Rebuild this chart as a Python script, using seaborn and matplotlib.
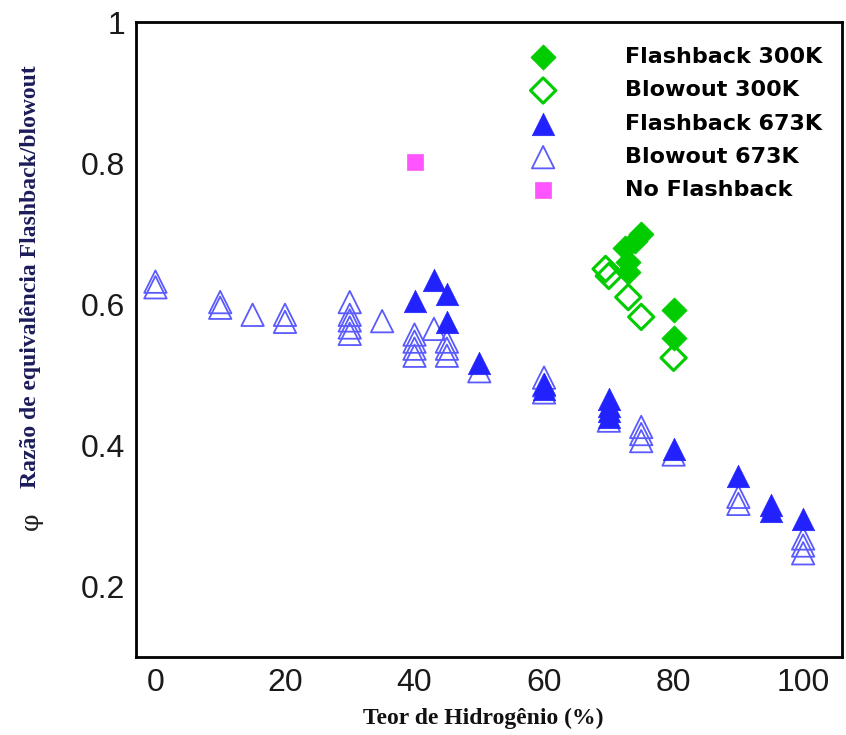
import numpy as np
import pandas as pd
import seaborn as sns
import matplotlib
matplotlib.use("Agg")
import matplotlib.pyplot as plt
from matplotlib.ticker import MultipleLocator

# Flashback / blowout equivalence ratio versus hydrogen content
flash300_x = [75, 74, 72.5, 73, 73, 80, 80]
flash300_y = [0.70, 0.69, 0.68, 0.66, 0.645, 0.592, 0.552]

blow300_x = [69.5, 70, 73, 75, 80]
blow300_y = [0.65, 0.64, 0.61, 0.582, 0.524]

flash673_x = [40, 43, 45, 45, 50, 60, 60, 70, 70, 70, 70, 80, 90, 95, 95, 100]
flash673_y = [0.605, 0.634, 0.615, 0.575, 0.516, 0.487, 0.480, 0.465, 0.456,
              0.448, 0.440, 0.395, 0.356, 0.316, 0.307, 0.296]

blow673_x = [0, 0, 10, 10, 15, 20, 20, 30, 30, 30, 30, 30, 35, 40, 40, 40, 40,
             43, 45, 45, 45, 50, 60, 60, 60, 70, 75, 75, 75, 80, 90, 90,
             100, 100, 100]
blow673_y = [0.632, 0.624, 0.603, 0.595, 0.585, 0.585, 0.575, 0.603, 0.585,
             0.577, 0.567, 0.558, 0.576, 0.557, 0.547, 0.537, 0.527, 0.565,
             0.547, 0.537, 0.527, 0.505, 0.496, 0.485, 0.475, 0.435, 0.426,
             0.416, 0.406, 0.387, 0.327, 0.317, 0.268, 0.258, 0.247]

noflash_x = [40]
noflash_y = [0.802]

labels = ["Flashback 300K", "Blowout 300K", "Flashback 673K",
          "Blowout 673K", "No Flashback"]
xticks = [0, 20, 40, 60, 80, 100]
yticks = [0.2, 0.4, 0.6, 0.8, 1.0]
ytick_labels = ["0.2", "0.4", "0.6", "0.8", "1"]

green = "#00cc00"
blue = "#2222ff"
light_blue = "#5a5aff"
pink = "#ff55ff"

sns.set_style("white")
plt.rcParams["font.family"] = ["Liberation Sans", "DejaVu Sans"]

W, H = 846, 735
fig = plt.figure(figsize=(W / 100, H / 100), dpi=100)
ax = fig.add_axes([136 / W, 78 / H, (842 - 136) / W, (657 - 22) / H])

# open markers first so the filled ones sit on top
sns.scatterplot(x=blow673_x, y=blow673_y, marker="^", s=260,
                facecolor="none", edgecolor=light_blue, linewidth=1.3,
                ax=ax, label=labels[3], zorder=3)
sns.scatterplot(x=flash673_x, y=flash673_y, marker="^", s=260,
                color=blue, edgecolor=blue, linewidth=0.5,
                ax=ax, label=labels[2], zorder=4)
sns.scatterplot(x=blow300_x, y=blow300_y, marker="D", s=165,
                facecolor="none", edgecolor=green, linewidth=2.2,
                ax=ax, label=labels[1], zorder=5)
sns.scatterplot(x=flash300_x, y=flash300_y, marker="D", s=165,
                color=green, edgecolor=green, linewidth=0.5,
                ax=ax, label=labels[0], zorder=6)
sns.scatterplot(x=noflash_x, y=noflash_y, marker="s", s=125,
                color=pink, edgecolor=pink, linewidth=0.5,
                ax=ax, label=labels[4], zorder=6)

ax.set_xlim(-3, 106)
ax.set_ylim(0.1, 1.0)
ax.set_xticks(xticks)
ax.set_yticks(yticks)
ax.set_yticklabels(ytick_labels)
ax.xaxis.set_minor_locator(MultipleLocator(5))
ax.yaxis.set_minor_locator(MultipleLocator(0.05))
ax.tick_params(axis="both", which="major", direction="in", length=7,
               width=1.6, labelsize=23, pad=8, colors="black",
               labelcolor="#1a1a1a")
ax.tick_params(axis="both", which="minor", direction="in", length=3.5,
               width=1.0, colors="black")
ax.tick_params(top=False, right=False, which="both")
for sp in ax.spines.values():
    sp.set_linewidth(2.0)
    sp.set_color("black")

ax.set_xlabel("")
ax.set_ylabel("")

# legend order: 300K first, then 673K, then no-flashback
handles, labs = ax.get_legend_handles_labels()
order = [labs.index(l) for l in labels]
ax.legend([handles[i] for i in order], [labs[i] for i in order],
          loc="upper left", bbox_to_anchor=((532 - 136) / 706, (657 - 47) / 635),
          frameon=False, borderpad=0, borderaxespad=0, handlelength=1.0,
          handletextpad=3.2, labelspacing=0.6, labelcolor="black",
          prop={"family": "DejaVu Sans", "weight": "bold", "size": 16})

# axis titles
fig.text(483 / W, 1 - 718 / H, "Teor de Hidrogênio (%)",
         ha="center", va="center", fontsize=17, fontweight="bold",
         family="Liberation Serif", color="#111111")
fig.text(31 / W, 1 - 277 / H, "Razão de equivalência Flashback/blowout",
         ha="center", va="center", rotation=90, fontsize=17,
         fontweight="bold", family="Liberation Serif", color="#1c1c5a")
fig.text(31 / W, 1 - 521 / H, "φ", ha="center", va="center", rotation=90,
         fontsize=18, family="DejaVu Serif", color="#222222")

fig.savefig("out.png", dpi=100)
